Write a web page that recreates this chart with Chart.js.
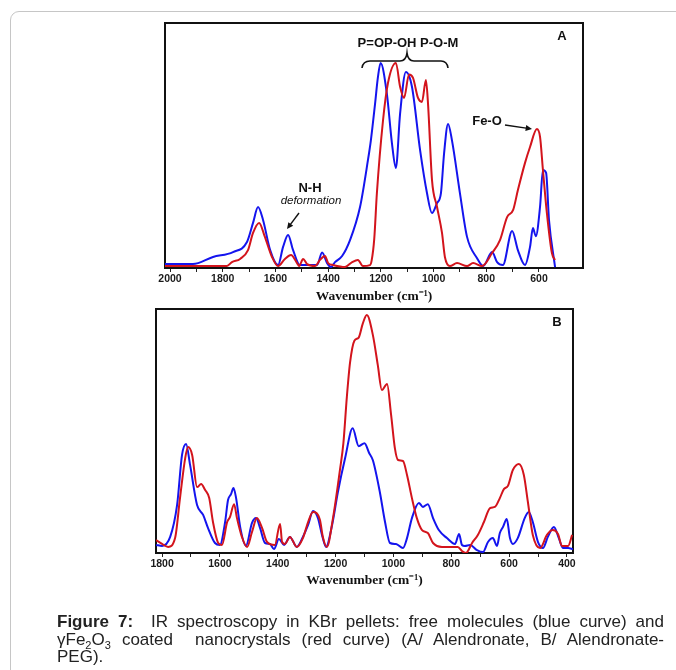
<!DOCTYPE html>
<html>
<head>
<meta charset="utf-8">
<script src="https://cdn.jsdelivr.net/npm/chart.js@4.4.1/dist/chart.umd.min.js"></script>
<style>
html,body{margin:0;padding:0;background:#fff;width:676px;height:670px;overflow:hidden;position:relative;}
#frame{position:absolute;left:10px;top:11px;width:720px;height:720px;border:1.5px solid #c6c6c6;border-radius:9px;box-sizing:border-box;}
#cA{position:absolute;left:0;top:0;}
#cB{position:absolute;left:0;top:300px;}
.cap{position:absolute;left:57px;width:607px;font-family:"Liberation Sans",Arial,sans-serif;font-size:17px;color:#222;line-height:18px;text-align:justify;text-align-last:justify;white-space:normal;}
.cap.last{text-align-last:left;}
.cap sub{font-size:11px;vertical-align:-4px;line-height:0;}
</style>
</head>
<body>
<div id="frame"></div>
<canvas id="cA" width="676" height="305"></canvas>
<canvas id="cB" width="676" height="300"></canvas>
<div class="cap" style="top:613px;"><b>Figure 7:</b>&nbsp; IR spectroscopy in KBr pellets: free molecules (blue curve) and</div>
<div class="cap" style="top:631px;">γFe<sub>2</sub>O<sub>3</sub> coated&nbsp; nanocrystals (red curve) (A/ Alendronate, B/ Alendronate-</div>
<div class="cap last" style="top:648px;">PEG).</div>
<script>
// ---------- Panel A (Alendronate) ----------
const waveA_free = [2019,1913,1837,1761,1708,1685,1666,1647,1620,1590,1571,1552,1533,1507,1442,1423,1404,1389,1374,1347,1317,1279,1249,1238,1222,1211,1201,1177,1158,1143,1127,1105,1082,1051,1025,1006,987,972,960,945,930,900,873,835,812,778,759,737,702,680,653,634,623,612,596,585,573,562,539];
const absA_free  = [1.6,1.6,4.5,6.5,10.6,18.4,24.9,19.6,7.3,1.2,8.6,13.5,7.3,1.2,1.2,6.3,2,0.4,2.4,4.9,11.4,24.9,44,52,67,78,83.7,71,51,40.8,63,80,74,48,30.6,22.4,26.5,30.6,46.9,58.8,52,30.6,12.7,4,0.8,6.5,2.4,1.2,15.1,7.3,1.2,8.6,16.3,13,25,40,38.8,19.6,0.4];
const waveA_coated = [2019,1784,1765,1734,1704,1685,1662,1640,1613,1590,1564,1541,1518,1510,1495,1480,1450,1431,1412,1400,1381,1336,1309,1287,1268,1241,1235,1225,1215,1192,1173,1143,1127,1112,1093,1078,1059,1044,1029,1021,1006,987,968,957,938,911,873,850,816,778,748,721,698,680,653,634,608,596,585,570,551,539];
const absA_coated  = [0.8,0.8,2.4,3.7,7.3,14.3,18.4,12.7,4.5,0.8,3.7,5.3,2,0.8,3.7,1.6,0.8,3.3,4.9,2,1.2,0.4,2.4,3.3,0.8,1.2,3,12,30.6,60,75.5,83.7,74,69.4,79,77.6,69.4,67.8,76.7,67,36,25,14.3,4.5,0.8,2,0.8,2,0.8,6.1,11.4,20.8,23.7,31.8,42.9,49.4,56.7,53.5,40,22.4,6.1,3.3];
const ticksA = [600,800,1000,1200,1400,1600,1800,2000];
const minorTicksA = [700,900,1100,1300,1500,1700,1900];

// ---------- Panel B (Alendronate-PEG) ----------
const waveB_free = [1821,1800,1772,1748,1731,1717,1703,1679,1658,1641,1617,1600,1582,1572,1562,1553,1544,1530,1510,1489,1475,1461,1444,1427,1413,1396,1378,1358,1334,1313,1295,1278,1261,1247,1233,1212,1192,1167,1141,1120,1100,1084,1071,1047,1029,1012,991,967,953,936,912,898,881,863,843,815,787,773,763,753,735,711,690,673,656,642,632,621,608,597,587,570,546,532,518,500,483,466,445,428,414,396,379];
const absB_free  = [3.3,2.9,6.6,19.7,40.2,44.7,36,19.7,15.6,10.2,4.1,3.3,12.7,21.7,24,26.6,22.5,10.7,2.9,12.3,14.3,10.2,4.1,3.7,1.6,5.7,3.3,6.6,2.5,6.6,11.5,17.2,14.3,7.4,2.5,11.5,25,38.9,51.1,43.8,45,41,38,25,12.7,4.1,3.7,2,6.1,14.3,20.5,18.9,20,14.3,9.4,6.1,3.7,7.8,3.3,2.9,3.3,1.2,0.4,4.5,6.1,2.9,8.2,10.7,13.9,6.1,3.7,6.1,14.3,16.8,12.7,4.5,2,6.6,10.7,6.1,2,2,1.6];
const waveB_coated = [1821,1800,1779,1755,1738,1720,1710,1696,1679,1665,1651,1637,1624,1606,1593,1575,1565,1551,1541,1524,1506,1489,1472,1454,1437,1410,1392,1385,1375,1358,1334,1313,1295,1278,1254,1244,1230,1209,1185,1173,1161,1150,1135,1120,1106,1092,1071,1054,1040,1022,1008,995,984,967,953,936,919,901,881,863,832,777,763,749,728,708,687,666,649,632,618,604,587,566,549,535,518,493,469,449,431,417,396,382];
const absB_coated  = [5.3,3.7,2.5,6.1,22.5,38.9,43.4,40.2,27,28.3,25.8,22.5,12.7,4.1,3.3,12.7,14.8,20,14.3,6.6,2.5,8.6,14.3,10.2,4.5,3.3,11.9,4.5,3.7,6.6,2.5,6.1,12.7,16.8,13.5,6.6,2.5,14.3,34,45,64,78,87,88.3,94,97.5,89.3,77,66.8,69.3,56.6,43,38.1,37.7,32,22.5,14.3,9.4,8.2,4.1,2.5,2.5,0.8,0,4.1,7.4,12.7,18.4,18.9,22.5,26.2,27.5,34,36.5,32,20.9,7.4,2,7.4,9.4,7.8,2.9,2.9,7.4];
const ticksB = [400,600,800,1000,1200,1400,1600,1800];
const minorTicksB = [500,700,900,1100,1300,1500,1700];

const BLUE = '#1414ee', RED = '#d3141c';
const toXY = (xs, ys) => xs.map((x, i) => ({x: x, y: ys[i]}));

function arrow(ctx, x1, y1, x2, y2, head) {
  const a = Math.atan2(y2 - y1, x2 - x1);
  ctx.beginPath(); ctx.moveTo(x1, y1);
  ctx.lineTo(x2 - Math.cos(a) * head * 0.6, y2 - Math.sin(a) * head * 0.6); ctx.stroke();
  ctx.beginPath();
  ctx.moveTo(x2, y2);
  ctx.lineTo(x2 - head * Math.cos(a - 0.45), y2 - head * Math.sin(a - 0.45));
  ctx.lineTo(x2 - head * Math.cos(a + 0.45), y2 - head * Math.sin(a + 0.45));
  ctx.closePath(); ctx.fill();
}

const framePlugin = {
  id: 'frame',
  beforeDatasetsDraw(chart) {
    const {ctx, chartArea: a} = chart;
    ctx.save(); ctx.strokeStyle = '#111'; ctx.lineWidth = 2;
    ctx.strokeRect(a.left, a.top, a.right - a.left, a.bottom - a.top);
    ctx.restore();
  }
};

function makeChart(id, xsF, ysF, xsC, ysC, xmin, xmax, major, minor, pad, axisH, titlePadB, notes) {
  return new Chart(document.getElementById(id), {
    type: 'line',
    data: {
      datasets: [
        {label: 'coated', data: toXY(xsC, ysC), borderColor: RED, borderWidth: 2, pointRadius: 0, cubicInterpolationMode: 'monotone', fill: false},
        {label: 'free', data: toXY(xsF, ysF), borderColor: BLUE, borderWidth: 2, pointRadius: 0, cubicInterpolationMode: 'monotone', fill: false}
      ]
    },
    options: {
      responsive: false, animation: false, events: [],
      layout: {padding: pad},
      plugins: {legend: {display: false}, tooltip: {enabled: false}},
      scales: {
        x: {
          type: 'linear', reverse: true, min: xmin, max: xmax,
          afterBuildTicks: s => { s.ticks = major.concat(minor).sort((p, q) => p - q).map(v => ({value: v})); },
          afterFit: s => { s.height = axisH; },
          grid: {drawOnChartArea: false, drawTicks: true, tickLength: 4, color: '#222', lineWidth: 1},
          border: {display: false},
          ticks: {autoSkip: false, maxRotation: 0, padding: 1, color: '#1a1a1a',
                  font: {family: '"Liberation Sans", Arial, sans-serif', size: 10.5, weight: 'bold'},
                  callback: v => major.includes(v) ? String(v) : ''},
          title: {display: true, text: 'Wavenumber (cm⁻¹)', color: '#111', padding: {top: 0, bottom: titlePadB},
                  font: {family: '"Liberation Serif", "Times New Roman", serif', size: 13.5, weight: 'bold'}}
        },
        y: {display: false, min: 0, max: 100}
      }
    },
    plugins: [framePlugin, {id: 'notes', afterDatasetsDraw: chart => notes(chart.ctx)}]
  });
}

makeChart('cA', waveA_free, absA_free, waveA_coated, absA_coated, 433, 2019, ticksA, minorTicksA,
  {left: 165, right: 93, top: 23, bottom: 0}, 37, 0, ctx => {
    ctx.save();
    ctx.fillStyle = '#111'; ctx.strokeStyle = '#111';
    ctx.textAlign = 'center'; ctx.textBaseline = 'middle';
    ctx.font = 'bold 13px "Liberation Sans", Arial, sans-serif';
    ctx.fillText('P=OP-OH P-O-M', 408, 43);
    ctx.fillText('A', 562, 36);
    ctx.fillText('Fe-O', 487, 121);
    ctx.fillText('N-H', 310, 188);
    ctx.font = 'italic 11.5px "Liberation Sans", Arial, sans-serif';
    ctx.fillText('deformation', 311, 201);
    // brace
    ctx.lineWidth = 1.6;
    ctx.beginPath();
    ctx.moveTo(362, 68); ctx.quadraticCurveTo(363, 61, 370, 61);
    ctx.lineTo(400, 61); ctx.quadraticCurveTo(406, 61, 407, 53);
    ctx.quadraticCurveTo(408, 61, 414, 61);
    ctx.lineTo(441, 61); ctx.quadraticCurveTo(447, 61, 448, 68);
    ctx.stroke();
    ctx.lineWidth = 1.4;
    arrow(ctx, 505, 125, 532, 129, 7);
    arrow(ctx, 299, 213, 287, 229, 7);
    ctx.restore();
  });

makeChart('cB', waveB_free, absB_free, waveB_coated, absB_coated, 379, 1821, ticksB, minorTicksB,
  {left: 156, right: 103, top: 9, bottom: 0}, 47, 11, ctx => {
    ctx.save();
    ctx.fillStyle = '#111';
    ctx.textAlign = 'center'; ctx.textBaseline = 'middle';
    ctx.font = 'bold 13px "Liberation Sans", Arial, sans-serif';
    ctx.fillText('B', 557, 22);
    ctx.restore();
  });
</script>
</body>
</html>
